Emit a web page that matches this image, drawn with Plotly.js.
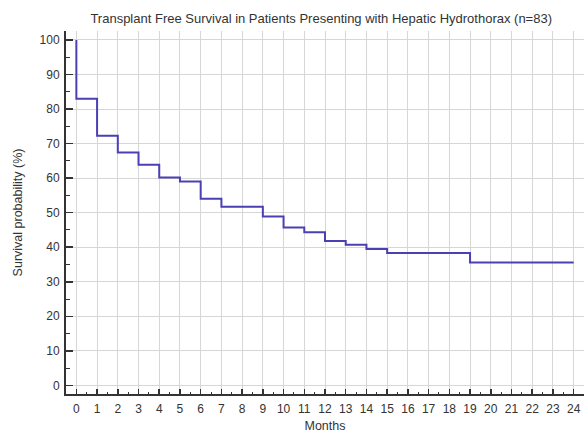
<!DOCTYPE html>
<html>
<head>
<meta charset="utf-8">
<script src="https://cdn.plot.ly/plotly-3.0.1.min.js"></script>
<style>html,body{margin:0;padding:0;background:#fff;}#chart{width:584px;height:433px;}</style>
</head>
<body>
<div id="chart"></div>
<script>
// Kaplan-Meier step points (months, survival %)
const months = [0, 0, 1, 2, 3, 4, 5, 6, 7, 9, 10, 11, 12, 13, 14, 15, 19, 24];
const survival = [100, 83, 72.3, 67.4, 63.9, 60.2, 59.0, 54.0, 51.7, 48.9, 45.7, 44.3, 41.8, 40.7, 39.5, 38.3, 35.6, 35.6];
const xTicks = [0,1,2,3,4,5,6,7,8,9,10,11,12,13,14,15,16,17,18,19,20,21,22,23,24];
const yTicks = [0,10,20,30,40,50,60,70,80,90,100];
const chartTitle = "Transplant Free Survival in Patients Presenting with Hepatic Hydrothorax (n=83)";
const xTitle = "Months";
const yTitle = "Survival probability (%)";

const trace = {
  x: months, y: survival, type: 'scatter', mode: 'lines',
  line: {shape: 'hv', color: '#4a40b4', width: 2},
  hoverinfo: 'skip'
};

const ff = 'Liberation Sans, Arial, sans-serif';
const layout = {
  width: 584, height: 433,
  margin: {l: 66, r: 0, t: 31, b: 39, pad: 0},
  paper_bgcolor: '#fff', plot_bgcolor: '#fff',
  showlegend: false,
  font: {family: ff, color: '#333', size: 12},
  title: {text: chartTitle, x: 0.55, xanchor: 'center', y: 0.958, yanchor: 'middle',
          font: {family: ff, size: 13, color: '#333'}},
  xaxis: {
    range: [-0.5, 24.5], tickvals: xTicks, ticktext: xTicks.map(String),
    showgrid: true, gridcolor: '#d6d6d6', gridwidth: 1, zeroline: false,
    showline: true, linecolor: '#333', linewidth: 2,
    ticks: 'inside', ticklen: 5, tickwidth: 1.5, tickcolor: '#333',
    minor: {dtick: 0.5, tick0: 0, ticks: 'inside', ticklen: 2, tickwidth: 1, tickcolor: '#333', showgrid: false},
    tickfont: {family: ff, size: 12, color: '#333'},
    ticklabelstandoff: 3,
    title: {text: xTitle, standoff: 8, font: {family: ff, size: 12.5, color: '#333'}},
    fixedrange: true, automargin: false
  },
  yaxis: {
    range: [-2.5, 102.6], tickvals: yTicks, ticktext: yTicks.map(String),
    showgrid: true, gridcolor: '#d6d6d6', gridwidth: 1, zeroline: false,
    showline: true, linecolor: '#333', linewidth: 2,
    ticks: 'inside', ticklen: 7, tickwidth: 1.5, tickcolor: '#333',
    minor: {dtick: 5, tick0: 0, ticks: 'inside', ticklen: 4, tickwidth: 1, tickcolor: '#333', showgrid: false},
    tickfont: {family: ff, size: 12, color: '#333'},
    ticklabelstandoff: 2,
    title: {text: yTitle, standoff: 14, font: {family: ff, size: 12.5, color: '#333'}},
    fixedrange: true, automargin: false
  }
};

Plotly.newPlot('chart', [trace], layout, {staticPlot: true, displayModeBar: false});
</script>
</body>
</html>
